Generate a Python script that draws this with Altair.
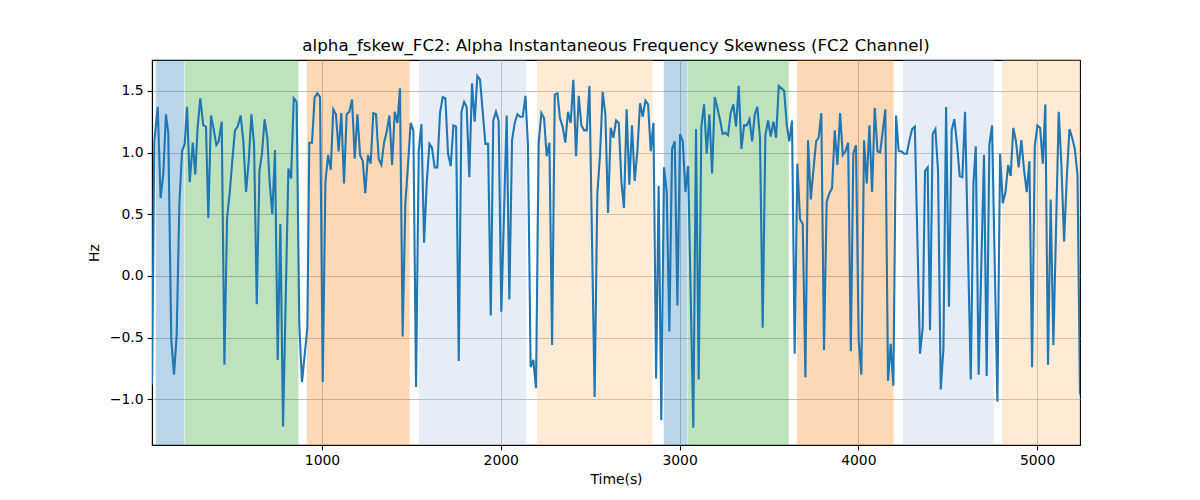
import altair as alt
import pandas as pd

times = [49, 62, 81, 97, 112, 127, 140, 157, 172, 187, 202, 217, 232, 245, 260, 277, 291, 304, 319, 336,
         351, 364, 379, 394, 409, 422, 439, 454, 469, 484, 498, 513, 528, 545, 560, 575, 590, 605, 620, 635,
         650, 664, 679, 694, 707, 722, 737, 752, 767, 782, 812, 827, 842, 858, 873, 888, 903, 918,
         929, 944, 959, 974, 989, 1004, 1019, 1034, 1049, 1063, 1078, 1093, 1108, 1123, 1138, 1153, 1168, 1183,
         1198, 1213, 1228, 1242, 1257, 1272, 1287, 1302, 1317, 1332, 1347, 1362, 1377, 1392, 1407, 1422, 1436,
         1451, 1466, 1481, 1496, 1511, 1526, 1541, 1556, 1571, 1586, 1601, 1615, 1630, 1645, 1660, 1675, 1690,
         1705, 1720, 1735, 1750, 1765, 1780, 1795,
         1809, 1824, 1839, 1854, 1869, 1884, 1899, 1914, 1929, 1944, 1958, 1973, 1988, 2003, 2033, 2048, 2063,
         2078, 2093, 2108, 2123, 2138, 2152, 2167, 2182, 2197, 2212, 2227, 2242, 2257, 2272, 2287, 2302, 2317,
         2331, 2346, 2361, 2376, 2391, 2406, 2421, 2436, 2451, 2466, 2481, 2496, 2525, 2540, 2555, 2570, 2585,
         2600, 2615, 2630, 2645, 2660,
         2675, 2689, 2704, 2719, 2734, 2749, 2764, 2779, 2794, 2809, 2824, 2839, 2854, 2869, 2883, 2898, 2913,
         2928, 2943, 2958, 2973, 2988, 3003, 3018, 3033, 3048, 3077, 3092, 3107, 3122, 3137, 3152, 3167, 3182,
         3197, 3212, 3227, 3241, 3256, 3271, 3286, 3301, 3316, 3331, 3346, 3361, 3376, 3391, 3406, 3421, 3435,
         3450, 3465, 3480, 3495, 3510, 3525,
         3540, 3555, 3570, 3585, 3600, 3614, 3629, 3644, 3659, 3674, 3689, 3704, 3719, 3734, 3749, 3764, 3778,
         3793, 3808, 3823, 3838, 3853, 3868, 3883, 3898, 3913, 3928, 3943, 3958, 3972, 3987, 4002, 4017, 4032,
         4047, 4062, 4077, 4092, 4107, 4122, 4137, 4151, 4166, 4181, 4196, 4211, 4226, 4241, 4256, 4271, 4286,
         4301, 4316,
         4345, 4360, 4373, 4388, 4401, 4416, 4431, 4446, 4461, 4476, 4491, 4507, 4522, 4537, 4552, 4567, 4582,
         4597, 4629, 4644, 4657, 4673, 4703, 4718, 4733, 4748, 4778, 4793, 4808, 4823, 4838, 4852, 4867, 4882,
         4897, 4912, 4927, 4942, 4957, 4972, 4987, 5002, 5017, 5032, 5046, 5061, 5076, 5091, 5121, 5136, 5151,
         5166, 5181, 5196, 5211, 5226, 5240]

values = [-0.88, 1.09, 1.37, 0.63, 0.82, 1.31, 1.16, -0.52, -0.80, -0.48, 0.58, 1.01, 1.07, 1.37, 0.76, 1.08, 0.82, 1.20, 1.44, 1.22,
          1.21, 0.47, 1.30, 1.19, 1.06, 1.09, 1.25, -0.72, 0.47, 0.68, 0.93, 1.18, 1.21, 1.30, 1.09, 0.68, 0.93, 1.31, 1.06, -0.23,
          0.85, 0.99, 1.27, 1.12, 0.76, 0.50, 1.02, -0.68, 0.42, -1.22, 0.87, 0.79, 1.44, 1.41, -0.40, -0.86, -0.64, -0.42,
          1.08, 1.08, 1.45, 1.48, 1.45, -0.86, 0.76, 0.98, 0.86, 1.35, 1.31, 1.01, 1.32, 0.75, 1.31, 1.33, 1.43, 0.95,
          1.31, 0.98, 0.93, 0.67, 0.98, 0.91, 1.32, 1.31, 0.95, 0.90, 1.08, 1.17, 1.30, 0.90, 1.33, 1.24, 1.52,
          -0.49, 0.58, 0.90, 1.24, 1.18, -0.90, 1.01, 1.23, 0.27, 0.76, 1.07, 1.04, 0.88, 0.88, 1.32, 1.45, 1.44,
          0.99, 0.89, 1.22, 1.21, -0.69, 1.33, 1.41,
          1.37, 0.80, 1.56, 1.25, 1.62, 1.59, 1.33, 1.07, 1.07, -0.32, 1.26, 1.33, 1.26, -0.29, 1.30, -0.19, 1.10,
          1.24, 1.31, 1.29, 1.29, 1.46, 1.06, -0.74, -0.68, -0.91, 1.08, 1.32, 1.28, 0.97, 1.08, -0.56, 1.47, 1.48,
          1.28, 1.21, 1.08, 1.33, 1.24, 1.59, 0.97, 1.46, 1.22, 1.18, 1.18, 1.54, -0.98, 0.66, 0.98, 1.49, 1.31,
          0.51, 1.20, 1.12, 1.26, 1.24,
          0.76, 0.55, 1.35, 0.74, 1.22, 0.77, 1.01, 1.40, 1.29, 1.42, 1.39, 1.01, 1.24, -0.83, 0.73, -1.17, 0.88,
          0.68, -0.45, 1.03, 1.09, -0.24, 1.15, 1.09, 0.68, 0.89, -1.23, 1.19, -0.84, 1.21, 1.39, 0.99, 1.31, 0.83,
          1.45, 1.36, 1.26, 1.15, 1.16, 1.14, 1.32, 1.39, 1.21, 1.54, 1.03, 1.22, 1.22, 1.27, 1.09, 1.31, 1.37,
          1.12, -0.42, 1.14, 1.26, 1.13, 1.25,
          1.12, 1.54, 1.52, 1.50, 1.22, 1.09, 1.26, -0.63, 0.91, 0.46, 0.42, -0.82, 1.10, 0.62, 0.86, 1.09, 1.12,
          1.32, -0.60, 0.60, 0.67, 0.71, 1.18, 0.90, 1.32, 0.98, 1.01, 1.08, -0.61, 0.99, 1.06, -0.52, -0.80, 1.10,
          0.75, 1.22, 0.68, 1.36, 1.01, 1.00, 1.18, 1.35, -0.85, -0.55, -0.89, 1.30, 1.01, 1.01, 0.99, 0.99, 1.10,
          1.19, 1.21,
          -0.63, -0.42, 0.85, 0.88, -0.44, 1.15, 1.19, 0.85, -0.92, -0.59, 1.37, -0.25, 1.18, 1.27, 1.07, 0.81, 0.80,
          1.33, -0.84, 0.75, 1.05, -0.80, 0.98, -0.81, 1.06, 1.22, -1.02, 0.99, 0.59, 0.68, 0.90, 0.81, 1.20, 1.09,
          0.88, 1.10, 0.86, 0.68, 0.93, -0.74, 1.05, 1.22, 1.20, 0.91, 1.39, -0.72, 0.62, -0.56, 1.33, 0.90, 0.28,
          0.79, 1.19, 1.12, 1.03, 0.82, -0.96]

band_start = [71, 234, 916, 1543, 2203, 2913, 3048, 3657, 4250, 4804]
band_end = [229, 867, 1489, 2143, 2848, 3043, 3610, 4196, 4756, 5240]
band_kind = ["k1", "k2", "k3", "k4", "k5", "k1", "k2", "k3", "k4", "k5"]
kind_colors = ["#1f77b4", "#2ca02c", "#ff7f0e", "#aec7e8", "#ffbb78"]

line_df = pd.DataFrame({"t": times, "v": values})
band_df = pd.DataFrame({"start": band_start, "end": band_end, "kind": band_kind})

xscale = alt.Scale(domain=[49, 5240], nice=False, zero=False)
yscale = alt.Scale(domain=[-1.37, 1.75], nice=False, zero=False)

bands = alt.Chart(band_df).mark_rect(opacity=0.3, strokeWidth=1, strokeOpacity=0.3).encode(
    x=alt.X("start:Q", scale=xscale),
    x2="end:Q",
    fill=alt.Fill("kind:N", scale=alt.Scale(domain=["k1", "k2", "k3", "k4", "k5"], range=kind_colors), legend=None),
    stroke=alt.Stroke("kind:N", scale=alt.Scale(domain=["k1", "k2", "k3", "k4", "k5"], range=kind_colors), legend=None),
)

line = alt.Chart(line_df).mark_line(color="#1f77b4", strokeWidth=2.1, clip=True).encode(
    x=alt.X("t:Q", scale=xscale,
            axis=alt.Axis(title="Time(s)", values=[1000, 2000, 3000, 4000, 5000], format="d")),
    y=alt.Y("v:Q", scale=yscale,
            axis=alt.Axis(title="Hz", values=[-1.0, -0.5, 0.0, 0.5, 1.0, 1.5], format=".1f")),
    order="t:Q",
)

chart = alt.layer(bands, line).properties(
    width=928,
    height=385,
    title=alt.TitleParams(
        "alpha_fskew_FC2: Alpha Instantaneous Frequency Skewness (FC2 Channel)",
        font="DejaVu Sans", fontSize=16.7, fontWeight="normal", color="black", offset=5,
    ),
    autosize=alt.AutoSizeParams(type="none"),
    padding={"left": 144, "top": 52, "right": 112, "bottom": 47},
).configure_view(
    stroke="black", strokeWidth=1.1
).configure_axis(
    labelFont="DejaVu Sans", titleFont="DejaVu Sans",
    labelFontSize=13.9, titleFontSize=13.9, titleFontWeight="normal",
    labelColor="black", titleColor="black",
    domainColor="black", domainWidth=1.1,
    tickColor="black", tickSize=4.9, tickWidth=1.1,
    labelPadding=4,
    gridColor="#b0b0b0", gridWidth=0.8,
).configure_axisX(
    titlePadding=5,
).configure_axisY(
    titlePadding=8,
)

chart.save("out.html", embed_options={"renderer": "svg", "actions": False})
